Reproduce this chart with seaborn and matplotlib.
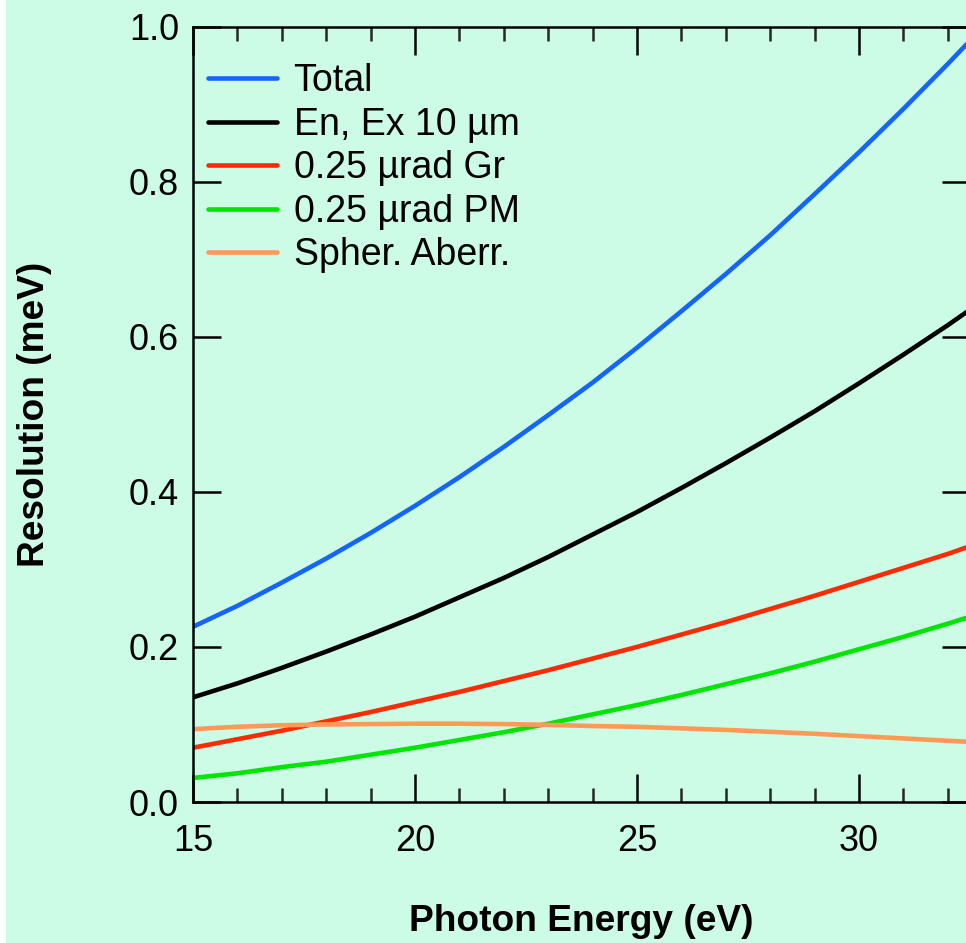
import numpy as np
import pandas as pd
import matplotlib
matplotlib.use("Agg")
import matplotlib.pyplot as plt
from matplotlib.patches import Rectangle
from matplotlib.lines import Line2D
from matplotlib.ticker import MultipleLocator, FormatStrFormatter
import seaborn as sns

# Photon energy grid (eV)
energy = [15, 16, 17, 18, 19, 20, 21, 22, 23, 24, 25, 26, 27, 28, 29, 30, 31, 32, 33]

# Resolution contributions (meV)
total = [0.226, 0.253, 0.283, 0.314, 0.347, 0.382, 0.419, 0.458, 0.499, 0.541,
         0.586, 0.633, 0.681, 0.731, 0.784, 0.838, 0.894, 0.952, 1.012]
en_ex = [0.135, 0.153, 0.173, 0.194, 0.216, 0.239, 0.264, 0.289, 0.316, 0.345,
         0.374, 0.405, 0.437, 0.470, 0.504, 0.540, 0.577, 0.615, 0.655]
grating = [0.070, 0.081, 0.092, 0.104, 0.116, 0.129, 0.142, 0.156, 0.170, 0.185,
           0.200, 0.216, 0.232, 0.249, 0.266, 0.284, 0.302, 0.320, 0.340]
plane_mirror = [0.031, 0.037, 0.045, 0.052, 0.061, 0.070, 0.080, 0.090, 0.101, 0.113,
                0.125, 0.138, 0.152, 0.166, 0.181, 0.197, 0.213, 0.230, 0.248]
spherical = [0.094, 0.097, 0.099, 0.100, 0.1005, 0.101, 0.101, 0.1005, 0.0995, 0.098,
             0.097, 0.095, 0.093, 0.0905, 0.088, 0.085, 0.082, 0.079, 0.076]

labels = ["Total", "En, Ex 10 \u00b5m", "0.25 \u00b5rad Gr", "0.25 \u00b5rad PM", "Spher. Aberr."]
colors = ["#1464FF", "#000000", "#FF2A00", "#00E600", "#FF9955"]
series = [total, en_ex, grating, plane_mirror, spherical]

df = pd.concat(
    [pd.DataFrame({"energy": energy, "res": vals, "component": lab})
     for lab, vals in zip(labels, series)],
    ignore_index=True,
)

sns.set_theme(style="ticks")
plt.rcParams["font.family"] = ["Liberation Sans", "DejaVu Sans"]

bg = "#CCFCE6"
fig = plt.figure(figsize=(9.66, 9.43), dpi=100, facecolor=bg)
ax = fig.add_axes([193 / 966, 141 / 943, 777 / 966, 775.3 / 943])
ax.set_facecolor(bg)
fig.patches.append(Rectangle((0, 0), 6 / 966, 1, transform=fig.transFigure,
                             facecolor="white", edgecolor="none", zorder=-1))

sns.lineplot(data=df, x="energy", y="res", hue="component", hue_order=labels,
             palette=colors, linewidth=3.3, ax=ax, legend=False)

ax.set_xlim(15, 32.5)
ax.set_ylim(0, 1.0)
ax.xaxis.set_major_locator(MultipleLocator(5))
ax.xaxis.set_minor_locator(MultipleLocator(1))
ax.yaxis.set_major_locator(MultipleLocator(0.2))
ax.yaxis.set_major_formatter(FormatStrFormatter("%.1f"))

for s in ax.spines.values():
    s.set_visible(True)
    s.set_linewidth(1.8)
    s.set_color("black")

ax.tick_params(axis="both", which="major", direction="in", length=20, width=1.8,
               labelsize=26, top=True, right=True, color="black",
               labelcolor="black")
ax.tick_params(axis="x", which="minor", direction="in", length=10, width=1.8,
               top=True, bottom=True)
ax.tick_params(axis="x", which="major", pad=16)
ax.tick_params(axis="y", which="major", pad=10)

ax.set_xlabel("Photon Energy (eV)", fontsize=26.7, fontweight="bold",
              labelpad=32, color="black")
ax.set_ylabel("Resolution (meV)", fontsize=26.7, fontweight="bold",
              labelpad=55, color="black")

handles = [Line2D([0], [0], color=c, lw=3.3) for c in colors]
leg = ax.legend(handles, labels, loc="upper left", bbox_to_anchor=(0.0, 0.972),
                frameon=False, fontsize=27, handlelength=1.85, handletextpad=0.43,
                labelspacing=0.2, borderaxespad=0.0)
for t in leg.get_texts():
    t.set_color("black")

fig.savefig("out.png", dpi=100, facecolor=bg)
